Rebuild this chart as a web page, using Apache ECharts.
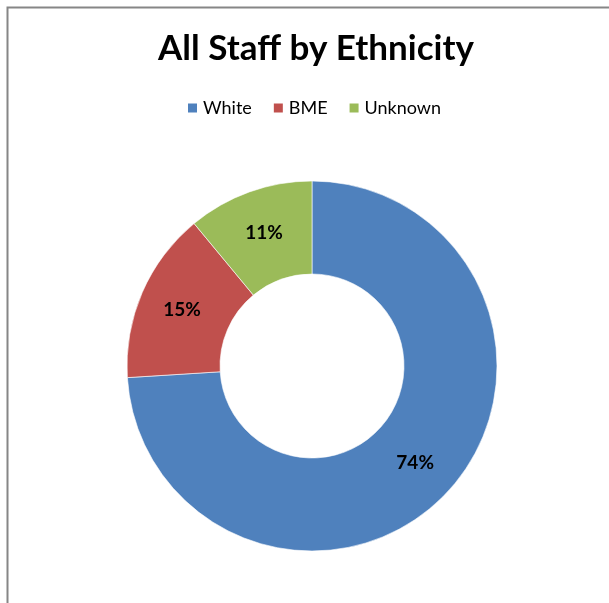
<!DOCTYPE html>
<html>
<head>
<meta charset="utf-8">
<style>
  html, body { margin: 0; padding: 0; background: #ffffff; }
  #chart { width: 609px; height: 603px; }
</style>
<script src="https://cdn.jsdelivr.net/npm/echarts@6/dist/echarts.min.js"></script>
</head>
<body>
<div id="chart"></div>
<script>
// Staff share by ethnic group (percent)
const categories = ['White', 'BME', 'Unknown'];
const shares = [74, 15, 11];
const colors = ['#4F81BD', '#C0504D', '#9BBB59'];
const titleText = 'All Staff by Ethnicity';

const chart = echarts.init(document.getElementById('chart'));

chart.setOption({
  animation: false,
  backgroundColor: '#ffffff',
  color: colors,
  title: {
    text: titleText,
    left: 311,
    textAlign: 'center',
    top: 26,
    textStyle: {
      fontFamily: 'Lato, "Open Sans", sans-serif',
      fontWeight: 'bold',
      fontSize: 35,
      color: '#000000'
    }
  },
  legend: {
    data: categories,
    left: 181,
    top: 94,
    itemWidth: 11,
    itemHeight: 11,
    itemGap: 20,
    icon: 'rect',
    textStyle: {
      fontFamily: 'Lato, "Open Sans", sans-serif',
      fontSize: 18,
      color: '#000000'
    }
  },
  graphic: [{
    type: 'polyline',
    silent: true,
    shape: { points: [[7.5, 610], [7.5, 7.5], [620, 7.5]] },
    style: { stroke: '#868686', lineWidth: 2, fill: null }
  }],
  series: [{
    type: 'pie',
    center: [312, 366],
    radius: [92, 185],
    startAngle: 90,
    clockwise: true,
    avoidLabelOverlap: false,
    itemStyle: { borderColor: '#ffffff', borderWidth: 0.6 },
    label: {
      show: true,
      position: 'inside',
      formatter: '{c}%',
      fontFamily: 'Lato, "Open Sans", sans-serif',
      fontWeight: 'bold',
      fontSize: 19,
      color: '#000000'
    },
    labelLine: { show: false },
    emphasis: { disabled: true },
    data: categories.map((name, i) => ({ name: name, value: shares[i] }))
  }]
});
</script>
</body>
</html>
